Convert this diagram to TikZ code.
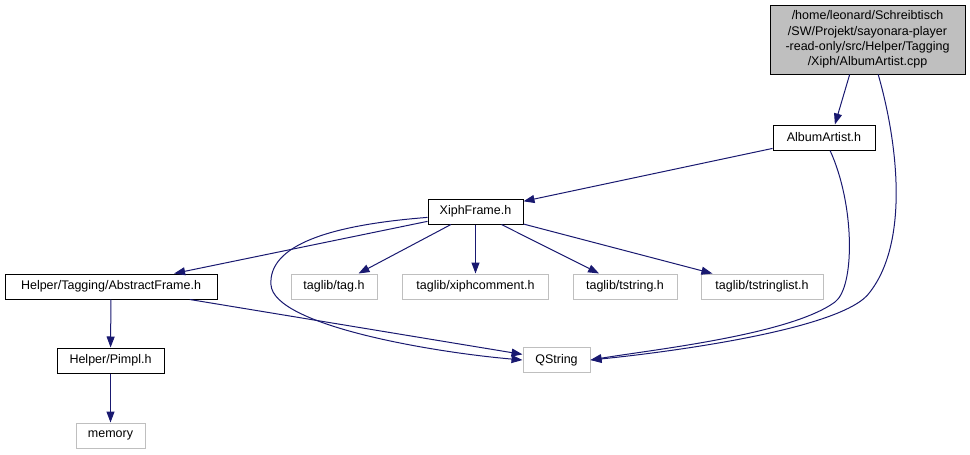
\documentclass[tikz,border=0pt]{standalone}
\usepackage{fontspec}
\setmainfont{Liberation Sans}
\usetikzlibrary{arrows.meta}

\definecolor{edgeblue}{HTML}{191970}
\definecolor{extgray}{HTML}{BFBFBF}

\begin{document}
\begin{tikzpicture}[x=1pt, y=-1pt,
    font=\fontsize{12.5}{15.3}\selectfont,
    file/.style={draw=black, line width=1pt, inner sep=0pt, minimum height=25pt},
    ext/.style={draw=extgray, line width=1pt, inner sep=0pt, minimum height=25pt},
    dep/.style={draw=edgeblue, line width=1pt, -{Triangle[length=11pt,width=8pt]}}]
    \useasboundingbox (0,0) rectangle (970,455);

    % Source file
    \node[file, fill=extgray, minimum width=195pt, minimum height=69pt, align=center] (cpp) at (867.5,39.5)
        {/home/leonard/Schreibtisch\\/SW/Projekt/sayonara-player\\-read-only/src/Helper/Tagging\\/Xiph/AlbumArtist.cpp};

    % Project headers
    \node[file, minimum width=102pt] (albumh) at (824,137.5) {AlbumArtist.h};
    \node[file, minimum width=95pt] (xiphh) at (475.5,211.5) {XiphFrame.h};
    \node[file, minimum width=212pt] (abstracth) at (111,286.5) {Helper/Tagging/AbstractFrame.h};
    \node[file, minimum width=107pt] (pimpl) at (110.5,360.5) {Helper/Pimpl.h};

    % External headers
    \node[ext, minimum width=86pt] (tagh) at (334,286.5) {taglib/tag.h};
    \node[ext, minimum width=146pt] (xiphcomment) at (475.5,286.5) {taglib/xiphcomment.h};
    \node[ext, minimum width=104pt] (tstring) at (625,286.5) {taglib/tstring.h};
    \node[ext, minimum width=122pt] (tstringlist) at (762,286.5) {taglib/tstringlist.h};
    \node[ext, minimum width=67pt] (qstring) at (556.5,360) {QString};
    \node[ext, minimum width=69pt] (memory) at (110.5,435.5) {memory};

    % Includes
    \draw[dep] (cpp.243) -- (albumh.50);
    \draw[dep] (cpp.-73) .. controls (897,140) and (910,240) .. (870,292)
        .. controls (845,329) and (670,352) .. (qstring.east);
    \draw[dep] (albumh) -- (xiphh);
    \draw[dep] (albumh.-65) .. controls (855,205) and (855,287) .. (835,302)
        .. controls (790,335) and (650,350) .. (qstring.east);
    \draw[dep] (xiphh) -- (abstracth);
    \draw[dep] (xiphh.187) .. controls (330,225) and (268,245) .. (271,285)
        .. controls (274,325) and (430,352) .. (qstring.west);
    \draw[dep] (xiphh) -- (tagh);
    \draw[dep] (xiphh) -- (xiphcomment);
    \draw[dep] (xiphh) -- (tstring);
    \draw[dep] (xiphh) -- (tstringlist);
    \draw[dep] (abstracth) -- (qstring);
    \draw[dep] (abstracth) -- (pimpl);
    \draw[dep] (pimpl) -- (memory);

\end{tikzpicture}
\end{document}
